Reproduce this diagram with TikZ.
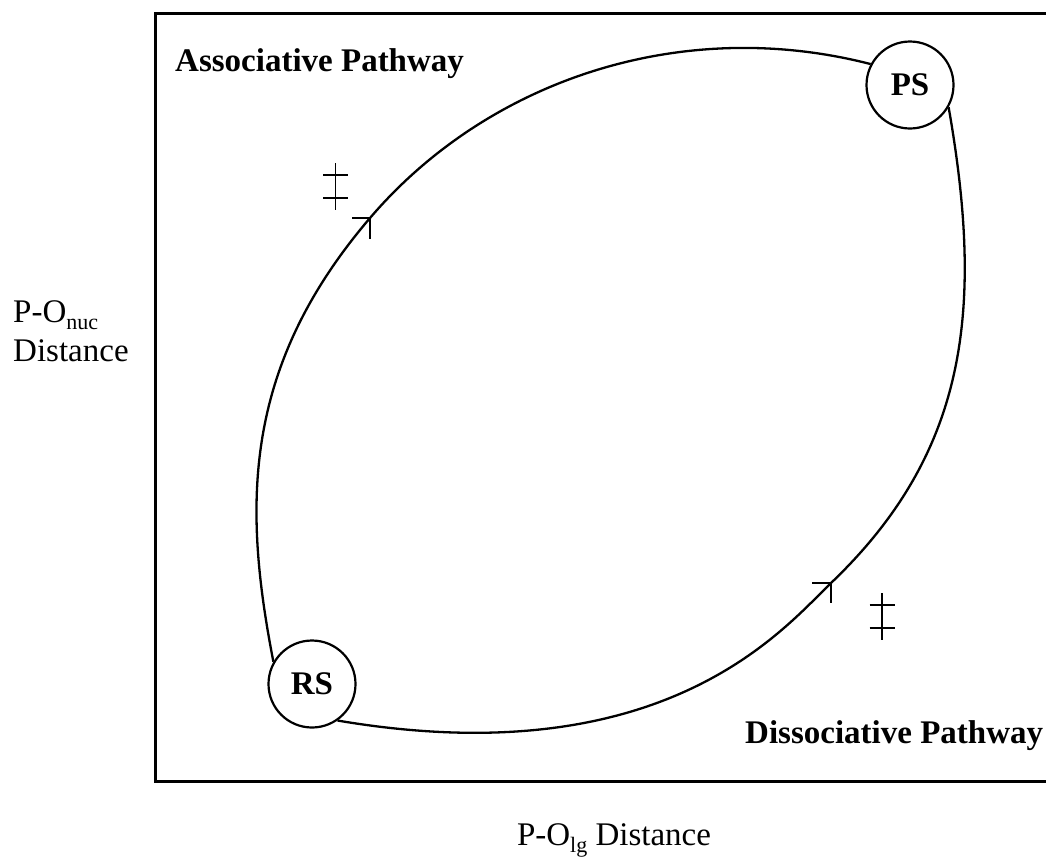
\documentclass[tikz,border=0pt]{standalone}
\usepackage{fontspec}
\setmainfont{Liberation Serif}
\newcommand{\lowsub}[1]{\raisebox{-7pt}{\fontsize{22}{22}\selectfont #1}}
\begin{document}
\begin{tikzpicture}[x=1pt,y=-1pt,
  state/.style={circle,draw,line width=2.2pt,minimum size=87pt,inner sep=0pt,font=\fontsize{33}{38}\selectfont\bfseries},
  curve/.style={line width=2.3pt},
  lbl/.style={font=\fontsize{33}{38}\selectfont\bfseries,inner sep=0pt,anchor=base west},
  axislbl/.style={font=\fontsize{33}{38}\selectfont,inner sep=0pt},
  tick/.style={line width=2pt},
  ddmark/.pic={\draw[line width=1.8pt] (0,-23.5) -- (0,23.5)
                 (-12.5,-11.5) -- (12.5,-11.5) (-12.5,11.5) -- (12.5,11.5);}]
\useasboundingbox (0,0) rectangle (1046,857);
\draw[line width=3pt] (155,13) rectangle (1070,781);

\node[state] (RS) at (312,684) {RS};
\node[state] (PS) at (910,85) {PS};

\coordinate (m1) at (370,218);
\coordinate (m2) at (831,583);

\draw[curve] (RS.150) .. controls (244,510) and (240,370) .. (m1)
                      .. controls (487,81) and (680,15) .. (PS.152);
\draw[curve] (RS.-55) .. controls (665,776) and (784,628) .. (m2)
                      .. controls (968,452) and (984,309) .. (PS.-30);

\draw[tick] ([xshift=-18pt]m1) -| ([yshift=-21pt]m1);
\draw[tick] ([xshift=-19pt]m2) -| ([yshift=-20pt]m2);

\coordinate (t1) at (335.5,186.5);
\coordinate (t2) at (882,616.5);
\pic at (t1) {ddmark};
\pic at (t2) {ddmark};

\node[lbl] (assoc) at (175,71) {Associative Pathway};
\node[lbl] (dissoc) at (745,743) {Dissociative Pathway};
\node[axislbl,anchor=base west] (yl1) at (13,322) {P-O\lowsub{nuc}};
\node[axislbl,anchor=base west] (yl2) at (13,361) {Distance};
\node[axislbl,anchor=base] (xl) at (614,845) {P-O\lowsub{lg} Distance};
\end{tikzpicture}
\end{document}
